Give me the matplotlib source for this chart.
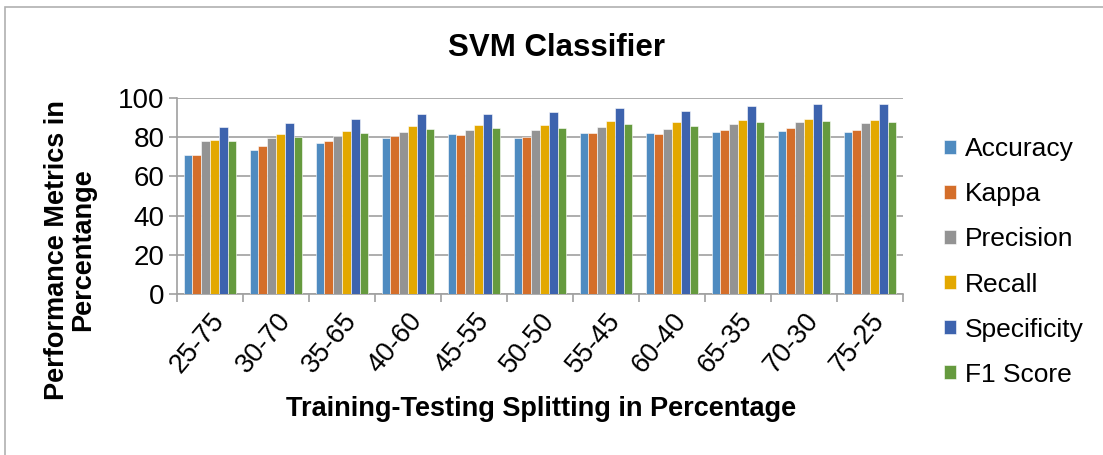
import matplotlib.pyplot as plt
import numpy as np
from matplotlib.patches import Rectangle

splits = ['25-75', '30-70', '35-65', '40-60', '45-55', '50-50',
          '55-45', '60-40', '65-35', '70-30', '75-25']
accuracy = [71.0, 73.7, 76.9, 79.8, 81.4, 79.5, 81.9, 81.9, 82.5, 83.1, 82.7]
kappa = [71.0, 75.3, 78.3, 80.8, 81.2, 80.3, 81.9, 81.4, 83.6, 84.6, 83.9]
precision = [78.0, 79.8, 80.8, 82.7, 83.9, 83.7, 85.4, 84.2, 86.8, 87.5, 87.1]
recall = [78.8, 81.4, 83.2, 85.6, 86.1, 86.4, 88.5, 88.0, 88.8, 89.5, 89.0]
specificity = [85.4, 87.3, 89.3, 91.9, 92.0, 92.9, 94.7, 93.6, 95.8, 96.9, 96.8]
f1_score = [78.3, 80.3, 81.9, 84.1, 84.9, 84.9, 86.9, 85.9, 87.6, 88.5, 88.0]

series = [('Accuracy', accuracy, '#4f8bc0'),
          ('Kappa', kappa, '#d46e2a'),
          ('Precision', precision, '#939393'),
          ('Recall', recall, '#e3a800'),
          ('Specificity', specificity, '#3d63ae'),
          ('F1 Score', f1_score, '#659a3e')]

plt.rcParams['font.family'] = ['Liberation Sans', 'DejaVu Sans']

W, H = 1103, 455
fig = plt.figure(figsize=(W / 100, H / 100), dpi=100)
ax = fig.add_axes([177 / W, 1 - 294 / H, (903 - 177) / W, (294 - 98) / H])

# outer chart border
fig.patches.append(Rectangle((5 / W, -0.01), 1, 1 - 7 / H + 0.01,
                             transform=fig.transFigure, fill=False,
                             edgecolor='#b0b0b0', linewidth=1.2))

x = np.arange(len(splits))
w = 0.8 / 6
for i, (name, vals, col) in enumerate(series):
    ax.bar(x - 0.4 + w * (i + 0.5), vals, w, color=col, label=name,
           edgecolor='white', linewidth=0.4, zorder=3)

ax.set_xlim(-0.5, len(splits) - 0.5)
ax.set_ylim(0, 100)
ax.set_yticks(range(0, 101, 20))
ax.yaxis.grid(True, color='#a0a0a0', linewidth=1.2, zorder=0)
ax.set_xticks(x)
ax.set_xticklabels(splits, rotation=50, ha='right', rotation_mode='anchor', fontsize=19.5)
ax.set_xticks(np.arange(-0.5, len(splits)), minor=True)
ax.tick_params(axis='x', which='major', length=0, pad=10)
ax.tick_params(axis='x', which='minor', length=6, color='#a0a0a0', width=1.2)
ax.tick_params(axis='y', labelsize=20, length=6, color='#a0a0a0', width=1.2, pad=3)
for s in ['top', 'right']:
    ax.spines[s].set_visible(False)
for s in ['left', 'bottom']:
    ax.spines[s].set_color('#a0a0a0')
    ax.spines[s].set_linewidth(1.2)

fig.text(557 / W, 1 - 48 / H, 'SVM Classifier', fontsize=22.5, fontweight='bold',
         ha='center', va='center')
fig.text(541 / W, 1 - 409 / H, 'Training-Testing Splitting in Percentage',
         fontsize=19.5, fontweight='bold', ha='center', va='center')
fig.text(70 / W, 1 - 250 / H, 'Performance Metrics in\nPercentange', fontsize=19.5,
         fontweight='bold', rotation=90, ha='center', va='center', linespacing=1.05)

fig.legend(*ax.get_legend_handles_labels(), loc='center left',
           bbox_to_anchor=(944 / W, 1 - 262 / H), frameon=False, fontsize=19,
           borderpad=0, borderaxespad=0,
           handlelength=0.45, handleheight=0.45, handletextpad=0.35, labelspacing=0.8)

fig.savefig('out.png', dpi=100)
